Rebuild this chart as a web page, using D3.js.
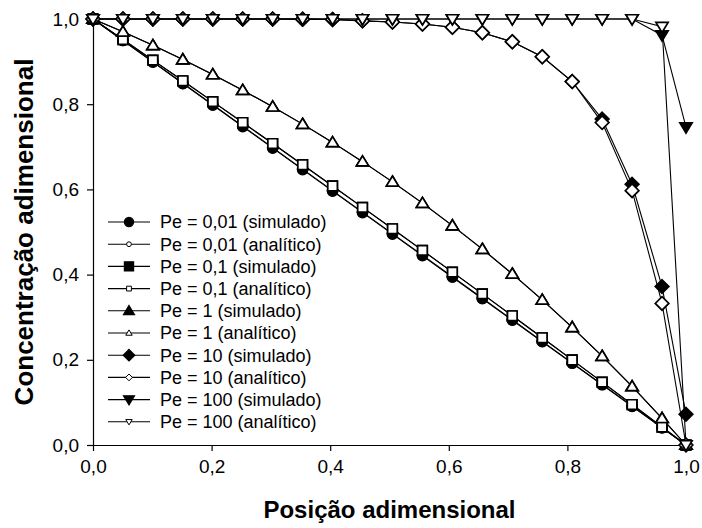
<!DOCTYPE html>
<html>
<head>
<meta charset="utf-8">
<script src="https://cdn.jsdelivr.net/npm/d3@7"></script>
<style>
  body { margin: 0; background: #fff; }
  svg { display: block; font-family: "Liberation Sans", Arial, sans-serif; }
</style>
</head>
<body>
<svg id="chart" width="702" height="528"></svg>
<script>
// Positions of the plotted nodes
var xPos = [0, 0.0505, 0.101, 0.1515, 0.202, 0.2525, 0.303, 0.3535, 0.404, 0.4545,
    0.505, 0.5556, 0.6061, 0.6566, 0.7071, 0.7576, 0.8081, 0.8586, 0.9091, 0.9596, 1.0];

// Values, one array per series
var pe001Sim = [1, 0.9495, 0.899, 0.8485, 0.798, 0.7475, 0.697, 0.6465, 0.596, 0.5455,
    0.495, 0.4444, 0.3939, 0.3434, 0.2929, 0.2424, 0.1919, 0.1414, 0.0909, 0.0404, 0];
var pe001An = [1, 0.9497, 0.8995, 0.8491, 0.7988, 0.7484, 0.6981, 0.6476, 0.5972, 0.5467,
    0.4962, 0.4456, 0.3951, 0.3445, 0.2939, 0.2433, 0.1927, 0.142, 0.0913, 0.0406, 0];
var pe01Sim = [1, 0.9519, 0.9035, 0.8549, 0.8061, 0.7569, 0.7076, 0.6579, 0.608, 0.5579,
    0.5075, 0.4568, 0.4058, 0.3547, 0.3033, 0.2516, 0.1997, 0.1475, 0.095, 0.0423, 0];
var pe01An = [1, 0.9519, 0.9035, 0.8549, 0.8061, 0.7569, 0.7076, 0.6579, 0.608, 0.5579,
    0.5075, 0.4568, 0.4058, 0.3547, 0.3033, 0.2516, 0.1997, 0.1475, 0.095, 0.0423, 0];
var pe1Sim = [1, 0.9699, 0.9381, 0.9048, 0.8697, 0.8328, 0.794, 0.7532, 0.7103, 0.6651,
    0.6176, 0.5677, 0.5151, 0.4598, 0.4017, 0.3405, 0.2762, 0.2086, 0.1374, 0.0627, 0];
var pe1An = [1, 0.9699, 0.9381, 0.9048, 0.8697, 0.8328, 0.794, 0.7532, 0.7103, 0.6651,
    0.6176, 0.5677, 0.5151, 0.4598, 0.4017, 0.3405, 0.2762, 0.2086, 0.1374, 0.0627, 0];
var pe10Sim = [1, 1, 1, 1, 1, 0.9999, 0.9999, 0.9996, 0.999, 0.9957,
    0.993, 0.9883, 0.9806, 0.9678, 0.9466, 0.9114, 0.8532, 0.765, 0.612, 0.372, 0.072];
var pe10An = [1, 1, 1, 1, 1, 0.9999, 0.9999, 0.9996, 0.999, 0.9957,
    0.993, 0.9883, 0.9806, 0.9678, 0.9466, 0.9114, 0.8532, 0.7568, 0.5971, 0.3324, 0];
var pe100Sim = [1, 1, 1, 1, 1, 1, 1, 1, 1, 1,
    1, 1, 1, 1, 1, 1, 1, 1, 1, 0.962, 0.746];
var pe100An = [1, 1, 1, 1, 1, 1, 1, 1, 1, 1,
    1, 1, 1, 1, 1, 1, 1, 1, 1, 0.982, 0];

var tickVals = [0, 0.2, 0.4, 0.6, 0.8, 1.0];
var legendLabels = ["Pe = 0,01 (simulado)", "Pe = 0,01 (analítico)", "Pe = 0,1 (simulado)",
    "Pe = 0,1 (analítico)", "Pe = 1 (simulado)", "Pe = 1 (analítico)", "Pe = 10 (simulado)",
    "Pe = 10 (analítico)", "Pe = 100 (simulado)", "Pe = 100 (analítico)"];

var series = [
    {label: legendLabels[0], values: pe001Sim, shape: "circle", filled: true},
    {label: legendLabels[1], values: pe001An, shape: "circle", filled: false},
    {label: legendLabels[2], values: pe01Sim, shape: "square", filled: true},
    {label: legendLabels[3], values: pe01An, shape: "square", filled: false},
    {label: legendLabels[4], values: pe1Sim, shape: "up", filled: true},
    {label: legendLabels[5], values: pe1An, shape: "up", filled: false},
    {label: legendLabels[6], values: pe10Sim, shape: "diamond", filled: true},
    {label: legendLabels[7], values: pe10An, shape: "diamond", filled: false},
    {label: legendLabels[8], values: pe100Sim, shape: "down", filled: true},
    {label: legendLabels[9], values: pe100An, shape: "down", filled: false}
];
// circles: open ones sit under the filled ones, otherwise open on top
var drawOrder = [1, 0, 2, 3, 4, 5, 6, 7, 8, 9];

var margin = {left: 93, right: 16, top: 19, bottom: 83};
var width = 702 - margin.left - margin.right,
    height = 528 - margin.top - margin.bottom;

var svg = d3.select("#chart");
var g = svg.append("g").attr("transform", "translate(" + margin.left + "," + margin.top + ")");

var x = d3.scaleLinear().domain([0, 1]).range([0, width]);
var y = d3.scaleLinear().domain([0, 1]).range([height, 0]);
var fmt = function(d) { return d3.format(".1f")(d).replace(".", ","); };

// marker outline as path string, s = half size
function markerPath(shape, s) {
    if (shape == "circle") return d3.symbol(d3.symbolCircle, Math.PI * s * s)();
    if (shape == "square") return "M" + (-s) + "," + (-s) + "h" + 2 * s + "v" + 2 * s + "h" + (-2 * s) + "Z";
    if (shape == "diamond") return "M0," + (-s) + "L" + s + ",0L0," + s + "L" + (-s) + ",0Z";
    var w = s * 1.15, h = s * 1.9;
    if (shape == "up") return "M0," + (-0.58 * h) + "L" + w + "," + (0.42 * h) + "L" + (-w) + "," + (0.42 * h) + "Z";
    return "M0," + (0.58 * h) + "L" + w + "," + (-0.42 * h) + "L" + (-w) + "," + (-0.42 * h) + "Z";
}
var plotSize = {circle: 5, square: 4.8, up: 5.3, diamond: 6.8, down: 5.3};

// axes
var yAxis = g.append("g")
    .call(d3.axisLeft(y).tickValues(tickVals).tickFormat(fmt).tickSizeInner(6).tickSizeOuter(0).tickPadding(8));
var xAxis = g.append("g")
    .attr("transform", "translate(0," + height + ")")
    .call(d3.axisBottom(x).tickValues(tickVals).tickFormat(fmt).tickSizeInner(6).tickSizeOuter(0).tickPadding(9));
[xAxis, yAxis].forEach(function(a) {
    a.selectAll("text").attr("font-size", 19).attr("fill", "#000").style("font-family", "Liberation Sans, Arial, sans-serif");
    a.selectAll("line").attr("stroke", "#000").attr("stroke-width", 1.2);
    a.select(".domain").attr("stroke", "#000").attr("stroke-width", 1.2);
});

// lines
var line = d3.line()
    .x(function(d, i) { return x(xPos[i]); })
    .y(function(d) { return y(d); });
g.selectAll("path.curve")
    .data(series)
    .join("path")
    .attr("class", "curve")
    .attr("d", function(d) { return line(d.values); })
    .attr("fill", "none")
    .attr("stroke", "#000")
    .attr("stroke-width", 1.1);

// markers
drawOrder.forEach(function(k) {
    var s = series[k];
    g.append("g").selectAll("path")
        .data(s.values)
        .join("path")
        .attr("transform", function(d, i) { return "translate(" + x(xPos[i]) + "," + y(d) + ")"; })
        .attr("d", markerPath(s.shape, plotSize[s.shape]))
        .attr("fill", s.filled ? "#000" : "#fff")
        .attr("stroke", "#000")
        .attr("stroke-width", 1.7);
});

// legend
var legend = svg.append("g").attr("transform", "translate(108,222)");
var rows = legend.selectAll("g")
    .data(series)
    .join("g")
    .attr("transform", function(d, i) { return "translate(0," + i * 22.2 + ")"; });
rows.append("line")
    .attr("x1", 0).attr("x2", 42)
    .attr("stroke", "#000").attr("stroke-width", 1.1);
rows.append("path")
    .attr("transform", "translate(21,0)")
    .attr("d", function(d) {
        var base = d.filled ? 4.6 : 2.4;
        if (d.shape == "diamond") base = d.filled ? 5.8 : 3.4;
        if (d.shape == "up" || d.shape == "down") base = d.filled ? 4.8 : 2.8;
        return markerPath(d.shape, base);
    })
    .attr("fill", function(d) { return d.filled ? "#000" : "#fff"; })
    .attr("stroke", "#000")
    .attr("stroke-width", function(d) { return d.filled ? 1.2 : 1; });
rows.append("text")
    .attr("x", 52)
    .attr("dy", "0.36em")
    .attr("font-size", 18)
    .text(function(d) { return d.label; });

// axis titles
svg.append("text")
    .attr("x", margin.left + width / 2)
    .attr("y", 518)
    .attr("text-anchor", "middle")
    .attr("font-size", 24)
    .attr("font-weight", "bold")
    .text("Posição adimensional");
svg.append("text")
    .attr("transform", "translate(33," + (margin.top + height / 2) + ") rotate(-90)")
    .attr("text-anchor", "middle")
    .attr("font-size", 26)
    .attr("font-weight", "bold")
    .text("Concentração adimensional");
</script>
</body>
</html>
